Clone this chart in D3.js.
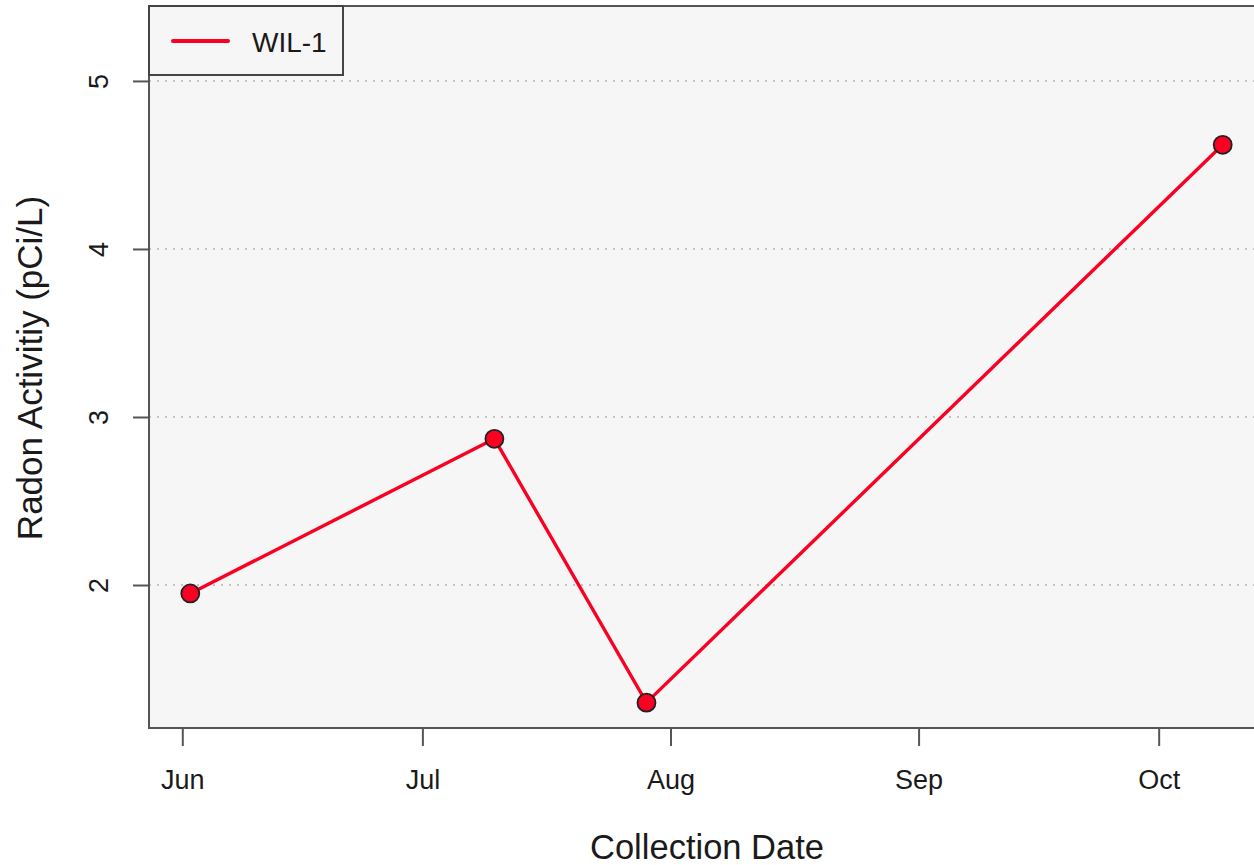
<!DOCTYPE html>
<html>
<head>
<meta charset="utf-8">
<script src="https://cdn.jsdelivr.net/npm/d3@7"></script>
<style>
  html, body { margin: 0; padding: 0; background: #ffffff; }
  svg { display: block; font-family: "Liberation Sans", Arial, sans-serif; }
</style>
</head>
<body>
<svg id="chart" width="1254" height="865"></svg>
<script>
// Radon activity samples for site WIL-1
const sampleDates = ["2019-06-02", "2019-07-10", "2019-07-29", "2019-10-09"];
const radonValues = [1.95, 2.87, 1.30, 4.62];
const seriesName = "WIL-1";
const monthTicks = ["2019-06-01", "2019-07-01", "2019-08-01", "2019-09-01", "2019-10-01"];
const monthLabels = ["Jun", "Jul", "Aug", "Sep", "Oct"];
const yTicks = [2, 3, 4, 5];

const parse = d3.timeParse("%Y-%m-%d");
const data = sampleDates.map((d, i) => ({ date: parse(d), value: radonValues[i] }));

const svg = d3.select("#chart");
const plot = { left: 149, top: 6, right: 1264, bottom: 728 };
const red = "#fa0022";

// 4% padding around the date range, as in base graphics
const x0 = d3.min(data, d => d.date), x1 = d3.max(data, d => d.date);
const pad = (x1 - x0) * 0.04;
const x = d3.scaleTime()
  .domain([new Date(+x0 - pad), new Date(+x1 + pad)])
  .range([plot.left, plot.right]);
const y = d3.scaleLinear()
  .domain([1.149, 5.446])
  .range([plot.bottom, plot.top]);

// Plot panel background
svg.append("rect")
  .attr("x", plot.left).attr("y", plot.top)
  .attr("width", plot.right - plot.left).attr("height", plot.bottom - plot.top)
  .attr("fill", "#f6f6f6");

// Dotted horizontal grid
svg.append("g").selectAll("line").data(yTicks).join("line")
  .attr("x1", plot.left).attr("x2", plot.right)
  .attr("y1", d => y(d)).attr("y2", d => y(d))
  .attr("stroke", "#c4c4c4").attr("stroke-width", 2)
  .attr("stroke-dasharray", "2,6");

// Series line and points
const line = d3.line().x(d => x(d.date)).y(d => y(d.value));
svg.append("path").datum(data)
  .attr("d", line)
  .attr("fill", "none")
  .attr("stroke", red)
  .attr("stroke-width", 3.4);
svg.append("g").selectAll("circle").data(data).join("circle")
  .attr("cx", d => x(d.date)).attr("cy", d => y(d.value))
  .attr("r", 9)
  .attr("fill", red)
  .attr("stroke", "#222").attr("stroke-width", 1.8);

// Panel border
svg.append("rect")
  .attr("x", plot.left).attr("y", plot.top)
  .attr("width", plot.right - plot.left).attr("height", plot.bottom - plot.top)
  .attr("fill", "none").attr("stroke", "#555").attr("stroke-width", 2);

// X axis
const xAxis = d3.axisBottom(x)
  .tickValues(monthTicks.map(parse))
  .tickFormat((d, i) => monthLabels[i])
  .tickSize(18).tickPadding(24);
const gx = svg.append("g").attr("transform", `translate(0,${plot.bottom})`).call(xAxis);
gx.select(".domain").remove();
gx.selectAll(".tick line").attr("stroke", "#555").attr("stroke-width", 2);
gx.selectAll(".tick text").attr("fill", "#1a1a1a").style("font-size", "27px")
  .style("font-family", "'Liberation Sans', Arial, sans-serif");

// Y axis with rotated labels
const yAxis = d3.axisLeft(y).tickValues(yTicks).tickFormat(d3.format("d")).tickSize(16).tickPadding(0);
const gy = svg.append("g").attr("transform", `translate(${plot.left},0)`).call(yAxis);
gy.select(".domain").remove();
gy.selectAll(".tick line").attr("stroke", "#555").attr("stroke-width", 2);
gy.selectAll(".tick text")
  .attr("x", 0).attr("dy", null)
  .attr("transform", "translate(-50,0) rotate(-90)")
  .attr("text-anchor", "middle")
  .attr("dominant-baseline", "central")
  .attr("fill", "#1a1a1a").style("font-size", "27px")
  .style("font-family", "'Liberation Sans', Arial, sans-serif");

// Axis titles
svg.append("text")
  .attr("x", 707).attr("y", 859)
  .attr("text-anchor", "middle")
  .attr("fill", "#1a1a1a").style("font-size", "34.5px")
  .text("Collection Date");
svg.append("text")
  .attr("transform", `translate(42,368) rotate(-90)`)
  .attr("text-anchor", "middle")
  .attr("fill", "#1a1a1a").style("font-size", "35px")
  .text("Radon Activitiy (pCi/L)");

// Legend
const lg = svg.append("g");
lg.append("rect")
  .attr("x", plot.left).attr("y", plot.top)
  .attr("width", 194).attr("height", 69)
  .attr("fill", "#f6f6f6").attr("stroke", "#444").attr("stroke-width", 2);
lg.append("line")
  .attr("x1", 173).attr("x2", 228).attr("y1", 41).attr("y2", 41)
  .attr("stroke", red).attr("stroke-width", 4).attr("stroke-linecap", "round");
lg.append("text")
  .attr("x", 252).attr("y", 42).attr("dominant-baseline", "central")
  .attr("fill", "#1a1a1a").style("font-size", "28px")
  .text(seriesName);
</script>
</body>
</html>
